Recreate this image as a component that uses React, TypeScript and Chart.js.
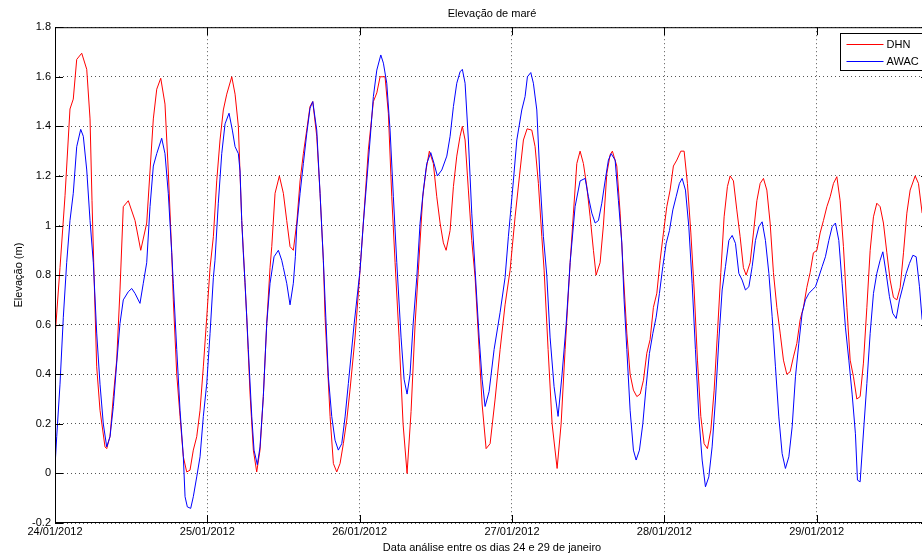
import React, { useEffect, useRef } from 'react';
import { Chart, registerables } from 'chart.js';

Chart.register(...registerables);

// Day tick labels (one tick every 24 h, starting 24/01/2012 00:00)
const dateLabels = ['24/01/2012', '25/01/2012', '26/01/2012', '27/01/2012', '28/01/2012', '29/01/2012'];
const hoursPerTick = 24;
const xMaxHours = 137.7;
const yMin = -0.2;
const yMax = 1.8;
const yStep = 0.2;

const chartTitle = 'Elevação de maré';
const xAxisTitle = 'Data análise entre os dias 24 e 29 de janeiro';
const yAxisTitle = 'Elevação (m)';

// [hours since 24/01/2012 00:00, elevation (m)]
const dhnSeries: number[][] = [
  [0, 0.55], [0.79, 0.83], [1.58, 1.12], [2.36, 1.47], [2.88, 1.51], [3.42, 1.67], [4.21, 1.695], [5.0, 1.63], [5.52, 1.43], [5.83, 1.1], [6.15, 0.8], [6.57, 0.43], [7.09, 0.255], [7.88, 0.107], [8.15, 0.1], [8.67, 0.15], [9.19, 0.31], [9.72, 0.457], [10.24, 0.74], [10.76, 1.076], [11.55, 1.1], [12.61, 1.02], [13.51, 0.9], [14.45, 1.01], [14.97, 1.22], [15.49, 1.43], [16.03, 1.55], [16.66, 1.594], [17.33, 1.49], [17.85, 1.22], [18.39, 0.89], [18.64, 0.7], [19.18, 0.4], [19.7, 0.23], [20.22, 0.067], [20.75, 0.006], [21.27, 0.013], [21.79, 0.094], [22.33, 0.148], [22.85, 0.255], [23.37, 0.43], [23.91, 0.63],
  [24.43, 0.83], [24.95, 0.955], [25.48, 1.18], [26.0, 1.345], [26.52, 1.466], [27.06, 1.53], [27.85, 1.6], [28.37, 1.53], [28.89, 1.4], [29.42, 1.02], [29.67, 0.9], [30.21, 0.63], [30.73, 0.32], [31.25, 0.094], [31.78, 0.006], [32.3, 0.094], [32.82, 0.31], [33.36, 0.606], [33.88, 0.83], [34.15, 0.915], [34.67, 1.13], [35.35, 1.2], [35.98, 1.13], [36.51, 1.02], [37.03, 0.915], [37.55, 0.9], [38.09, 1.01], [38.61, 1.18], [39.13, 1.29], [39.66, 1.385], [40.18, 1.48], [40.61, 1.5], [41.24, 1.36], [41.76, 1.13], [42.28, 0.86], [42.55, 0.63], [43.34, 0.23], [43.86, 0.04], [44.39, 0.006], [44.91, 0.04], [45.43, 0.12], [45.97, 0.215], [46.49, 0.34], [47.28, 0.55],
  [48.06, 0.82], [48.58, 1.01], [49.37, 1.305], [50.16, 1.5], [50.7, 1.535], [51.22, 1.6], [52.0, 1.6], [52.52, 1.453], [53.06, 1.116], [53.58, 0.85], [54.21, 0.55], [54.84, 0.2], [55.47, 0.0], [56.1, 0.25], [56.73, 0.6], [57.25, 0.82], [57.94, 1.116], [58.46, 1.224], [58.98, 1.3], [59.61, 1.25], [60.15, 1.116], [60.67, 1.01], [61.19, 0.93], [61.62, 0.9], [62.25, 0.98], [62.77, 1.157], [63.3, 1.28], [63.82, 1.36], [64.18, 1.4], [64.61, 1.345], [65.13, 1.143], [65.66, 0.94], [66.19, 0.79], [66.82, 0.5], [67.29, 0.28], [67.92, 0.1], [68.55, 0.12], [69.34, 0.3], [70.13, 0.5], [70.91, 0.68],
  [71.7, 0.82], [72.49, 1.035], [73.28, 1.224], [73.8, 1.345], [74.38, 1.39], [75.12, 1.385], [75.64, 1.318], [76.16, 1.17], [76.7, 0.955], [77.06, 0.82], [77.69, 0.5], [78.32, 0.2], [79.11, 0.02], [79.74, 0.2], [80.37, 0.5], [81.16, 0.85], [81.68, 1.05], [82.21, 1.25], [82.73, 1.3], [83.25, 1.25], [83.79, 1.157], [84.31, 1.035], [84.83, 0.9], [85.25, 0.8], [85.88, 0.85], [86.4, 1.0], [86.94, 1.21], [87.46, 1.285], [87.82, 1.3], [88.51, 1.24], [89.04, 1.05], [89.56, 0.8], [90.09, 0.566], [90.61, 0.4], [91.13, 0.336], [91.67, 0.31], [92.19, 0.32], [92.71, 0.376], [93.24, 0.485], [93.76, 0.54], [94.28, 0.67], [94.82, 0.727],
  [95.34, 0.86], [95.86, 0.97], [96.39, 1.076], [96.91, 1.143], [97.43, 1.24], [97.97, 1.264], [98.6, 1.3], [99.12, 1.3], [99.64, 1.17], [100.18, 0.97], [100.7, 0.74], [101.22, 0.457], [101.75, 0.23], [102.27, 0.12], [102.79, 0.1], [103.33, 0.175], [103.85, 0.336], [104.37, 0.566], [104.9, 0.81], [105.42, 1.035], [105.94, 1.157], [106.37, 1.2], [106.89, 1.18], [107.42, 1.063], [107.94, 0.955], [108.46, 0.83], [108.89, 0.8], [109.52, 0.85], [110.04, 0.97], [110.58, 1.1], [111.1, 1.17], [111.62, 1.19], [112.15, 1.143], [112.67, 1.01], [113.19, 0.81], [113.73, 0.67], [114.25, 0.566], [114.77, 0.457], [115.3, 0.4], [115.82, 0.41], [116.34, 0.47], [116.88, 0.525], [117.4, 0.62], [117.92, 0.67], [118.45, 0.75], [118.97, 0.81], [119.49, 0.89],
  [120.03, 0.9], [120.55, 0.97], [121.07, 1.02], [121.61, 1.076], [122.13, 1.116], [122.65, 1.17], [123.18, 1.197], [123.7, 1.1], [124.22, 0.915], [124.76, 0.67], [125.28, 0.457], [125.8, 0.39], [126.33, 0.3], [126.85, 0.31], [127.37, 0.445], [127.91, 0.67], [128.43, 0.9], [128.95, 1.035], [129.48, 1.09], [130.0, 1.076], [130.52, 1.01], [131.06, 0.89], [131.58, 0.78], [132.1, 0.71], [132.64, 0.7], [133.16, 0.75], [133.68, 0.89], [134.21, 1.05], [134.73, 1.143], [135.52, 1.2], [136.04, 1.17], [136.62, 1.05],
];

const awacSeries: number[][] = [
  [0, 0.027], [0.27, 0.148], [0.79, 0.36], [1.31, 0.63], [1.84, 0.85], [2.36, 1.02], [2.88, 1.13], [3.42, 1.318], [4.05, 1.388], [4.46, 1.36], [5.0, 1.224], [5.52, 1.02], [6.04, 0.85], [6.57, 0.566], [7.09, 0.36], [7.61, 0.2], [8.15, 0.107], [8.67, 0.148], [9.19, 0.27], [9.72, 0.445], [10.24, 0.605], [10.76, 0.7], [11.55, 0.733], [12.09, 0.746], [12.61, 0.726], [13.39, 0.686], [13.91, 0.767], [14.45, 0.85], [14.97, 1.076], [15.49, 1.24], [16.03, 1.29], [16.81, 1.352], [17.33, 1.29], [17.85, 1.13], [18.39, 0.89], [18.64, 0.767], [19.18, 0.5], [19.7, 0.255], [20.22, 0.067], [20.49, -0.094], [20.85, -0.135], [21.38, -0.141], [21.79, -0.094], [22.33, -0.014], [22.85, 0.067], [23.37, 0.23], [23.91, 0.363],
  [24.43, 0.565], [24.95, 0.79], [25.21, 0.86], [25.73, 1.09], [26.27, 1.29], [26.79, 1.41], [27.42, 1.453], [27.94, 1.385], [28.37, 1.318], [28.89, 1.29], [29.15, 1.22], [29.42, 1.02], [29.67, 0.89], [29.94, 0.77], [30.46, 0.5], [31.0, 0.23], [31.36, 0.094], [31.88, 0.035], [32.3, 0.107], [32.82, 0.31], [33.36, 0.605], [33.88, 0.767], [34.51, 0.874], [35.19, 0.9], [35.72, 0.86], [35.98, 0.83], [36.51, 0.767], [37.03, 0.68], [37.55, 0.767], [37.87, 0.874], [38.09, 0.995], [38.61, 1.13], [39.13, 1.25], [39.66, 1.37], [40.18, 1.473], [40.61, 1.5], [41.24, 1.385], [41.76, 1.13], [42.28, 0.86], [42.55, 0.7], [43.07, 0.39], [43.6, 0.23], [44.12, 0.134], [44.64, 0.094], [45.18, 0.12], [45.7, 0.228], [46.22, 0.363], [47.12, 0.6],
  [48.06, 0.82], [48.58, 1.01], [49.12, 1.18], [49.64, 1.345], [50.16, 1.52], [50.7, 1.627], [51.33, 1.688], [51.74, 1.655], [52.27, 1.574], [52.79, 1.385], [53.31, 1.116], [53.85, 0.85], [54.52, 0.55], [55.0, 0.38], [55.47, 0.32], [55.94, 0.4], [56.42, 0.6], [57.0, 0.79], [57.52, 1.01], [58.04, 1.143], [58.57, 1.25], [59.2, 1.294], [59.72, 1.25], [60.24, 1.2], [60.94, 1.224], [61.73, 1.28], [62.25, 1.36], [62.77, 1.48], [63.3, 1.574], [63.82, 1.62], [64.18, 1.63], [64.61, 1.574], [65.13, 1.345], [65.66, 1.05], [66.19, 0.82], [66.82, 0.55], [67.29, 0.38], [67.76, 0.27], [68.39, 0.33], [69.18, 0.5], [70.13, 0.65], [70.91, 0.79],
  [71.43, 0.955], [72.22, 1.18], [72.76, 1.345], [73.54, 1.466], [74.06, 1.52], [74.43, 1.6], [74.96, 1.617], [75.37, 1.574], [75.91, 1.466], [76.43, 1.18], [76.95, 0.955], [77.48, 0.8], [78.0, 0.55], [78.63, 0.35], [79.26, 0.23], [79.89, 0.4], [80.53, 0.6], [81.16, 0.85], [81.94, 1.076], [82.73, 1.18], [83.52, 1.19], [84.04, 1.116], [84.58, 1.05], [85.1, 1.01], [85.62, 1.02], [86.15, 1.09], [86.67, 1.18], [87.19, 1.264], [87.62, 1.29], [88.25, 1.264], [88.77, 1.1], [89.3, 0.93], [89.66, 0.7], [90.09, 0.5], [90.61, 0.255], [91.13, 0.094], [91.56, 0.054], [92.08, 0.094], [92.61, 0.2], [93.13, 0.35], [93.65, 0.484], [94.19, 0.565], [94.71, 0.63], [95.23, 0.726],
  [95.76, 0.834], [96.29, 0.928], [96.81, 0.98], [97.34, 1.063], [97.86, 1.116], [98.38, 1.17], [98.81, 1.19], [99.33, 1.143], [99.86, 0.995], [100.38, 0.767], [100.9, 0.5], [101.44, 0.228], [101.96, 0.054], [102.48, -0.054], [103.01, -0.014], [103.53, 0.107], [104.05, 0.296], [104.59, 0.538], [105.11, 0.74], [105.63, 0.834], [106.17, 0.94], [106.69, 0.96], [107.21, 0.928], [107.74, 0.807], [108.26, 0.78], [108.78, 0.74], [109.32, 0.753], [109.84, 0.834], [110.36, 0.94], [110.89, 0.995], [111.41, 1.015], [111.93, 0.94], [112.47, 0.807], [112.99, 0.632], [113.51, 0.43], [114.04, 0.228], [114.56, 0.08], [115.08, 0.02], [115.62, 0.067], [116.14, 0.188], [116.66, 0.39], [117.19, 0.525], [117.71, 0.646], [118.23, 0.7], [118.77, 0.726], [119.29, 0.74], [119.81, 0.753],
  [120.34, 0.793], [120.86, 0.834], [121.38, 0.874], [121.92, 0.94], [122.44, 0.995], [122.96, 1.01], [123.49, 0.94], [124.01, 0.767], [124.53, 0.59], [125.07, 0.457], [125.59, 0.32], [126.11, 0.16], [126.43, -0.027], [126.85, -0.034], [127.37, 0.163], [127.91, 0.363], [128.43, 0.565], [128.95, 0.726], [129.48, 0.807], [130.0, 0.86], [130.43, 0.894], [130.95, 0.807], [131.47, 0.713], [131.99, 0.646], [132.53, 0.625], [133.05, 0.7], [133.58, 0.753], [134.1, 0.807], [134.62, 0.847], [135.16, 0.88], [135.68, 0.874], [136.2, 0.753], [136.62, 0.62],
];

const seriesNames = ['DHN', 'AWAC'];
const seriesColors = ['#ff0000', '#0000ff'];

const FONT = "'Liberation Sans', Arial, Helvetica, sans-serif";
const TICK_LEN = 8;

const framePlugin = {
  id: 'matlabFrame',
  afterDatasetsDraw(chart: any) {
    const { ctx, chartArea: a, scales } = chart;
    const xs = scales.x;
    const ys = scales.y;
    ctx.save();
    ctx.setLineDash([]);
    ctx.strokeStyle = '#000';
    ctx.lineWidth = 1;
    ctx.strokeRect(a.left + 0.5, a.top + 0.5, a.right - a.left - 1, a.bottom - a.top - 1);
    ctx.beginPath();
    xs.ticks.forEach((t: any) => {
      const px = Math.round(xs.getPixelForValue(t.value)) + 0.5;
      ctx.moveTo(px, a.bottom);
      ctx.lineTo(px, a.bottom - TICK_LEN);
      ctx.moveTo(px, a.top);
      ctx.lineTo(px, a.top + TICK_LEN);
    });
    ys.ticks.forEach((t: any) => {
      const py = Math.round(ys.getPixelForValue(t.value)) + 0.5;
      ctx.moveTo(a.left, py);
      ctx.lineTo(a.left + TICK_LEN, py);
      ctx.moveTo(a.right, py);
      ctx.lineTo(a.right - TICK_LEN, py);
    });
    ctx.stroke();

    // legend box (top-right, inside axes)
    const boxW = 87;
    const boxH = 37;
    const bx = Math.round(a.right - 2 - boxW) + 0.5;
    const by = Math.round(a.top + 6) + 0.5;
    ctx.fillStyle = '#fff';
    ctx.fillRect(bx, by, boxW, boxH);
    ctx.strokeRect(bx, by, boxW, boxH);
    ctx.font = `11px ${FONT}`;
    ctx.textBaseline = 'middle';
    ctx.textAlign = 'left';
    chart.data.datasets.forEach((ds: any, i: number) => {
      const ly = Math.round(by + 10 + i * 17) + 0.5;
      ctx.strokeStyle = ds.borderColor;
      ctx.beginPath();
      ctx.moveTo(bx + 6, ly);
      ctx.lineTo(bx + 43, ly);
      ctx.stroke();
      ctx.fillStyle = '#000';
      ctx.fillText(ds.label, bx + 46, ly);
    });
    ctx.restore();
  },
};

export default function App() {
  const canvasRef = useRef<HTMLCanvasElement>(null);

  useEffect(() => {
    if (!canvasRef.current) return;
    const toPoints = (s: number[][]) => s.map(([h, v]) => ({ x: h, y: v }));
    const chart = new Chart(canvasRef.current, {
      type: 'line',
      data: {
        datasets: [
          {
            label: seriesNames[0],
            data: toPoints(dhnSeries),
            borderColor: seriesColors[0],
            backgroundColor: seriesColors[0],
            borderWidth: 1,
            pointRadius: 0,
            tension: 0,
            fill: false,
            order: 2,
          },
          {
            label: seriesNames[1],
            data: toPoints(awacSeries),
            borderColor: seriesColors[1],
            backgroundColor: seriesColors[1],
            borderWidth: 1,
            pointRadius: 0,
            tension: 0,
            fill: false,
            order: 1,
          },
        ],
      },
      options: {
        animation: false,
        responsive: false,
        devicePixelRatio: 1,
        layout: { padding: { left: 0, right: 55, top: 0, bottom: 0 } },
        plugins: {
          legend: { display: false },
          tooltip: { enabled: false },
          title: {
            display: true,
            text: chartTitle,
            fullSize: false,
            color: '#000',
            font: { family: FONT, size: 11, weight: 'normal' },
            padding: { top: 7, bottom: 7 },
          },
        },
        scales: {
          x: {
            type: 'linear',
            min: 0,
            max: xMaxHours,
            afterFit: (s: any) => { s.height = 35; },
            ticks: {
              stepSize: hoursPerTick,
              includeBounds: false,
              autoSkip: false,
              maxRotation: 0,
              padding: 2,
              color: '#000',
              font: { family: FONT, size: 11 },
              callback: (v: any) => {
                const n = Number(v);
                if (n % hoursPerTick !== 0) return '';
                return dateLabels[n / hoursPerTick] ?? '';
              },
            },
            grid: {
              color: '#555',
              lineWidth: 1,
              drawTicks: false,
              borderDash: [1, 3],
            } as any,
            border: { display: false, dash: [1, 3] },
            title: {
              display: true,
              text: xAxisTitle,
              color: '#000',
              font: { family: FONT, size: 11 },
              padding: { top: 0, bottom: 3 },
            },
          },
          y: {
            type: 'linear',
            min: yMin,
            max: yMax,
            afterFit: (s: any) => { s.width = 55; },
            ticks: {
              stepSize: yStep,
              padding: 4,
              color: '#000',
              font: { family: FONT, size: 11 },
              callback: (v: any) => String(parseFloat(Number(v).toFixed(1))),
            },
            grid: {
              color: '#555',
              lineWidth: 1,
              drawTicks: false,
              borderDash: [1, 3],
            } as any,
            border: { display: false, dash: [1, 3] },
            title: {
              display: true,
              text: yAxisTitle,
              color: '#000',
              font: { family: FONT, size: 11 },
              padding: { top: 12, bottom: 0 },
            },
          },
        },
      },
      plugins: [framePlugin],
    } as any);
    return () => chart.destroy();
  }, []);

  return (
    <div
      style={{
        position: 'fixed',
        left: 0,
        top: 0,
        width: 922,
        height: 558,
        overflow: 'hidden',
        background: '#fff',
      }}
    >
      <canvas
        ref={canvasRef}
        width={984}
        height={558}
        style={{ display: 'block', width: 984, height: 558 }}
      />
    </div>
  );
}
